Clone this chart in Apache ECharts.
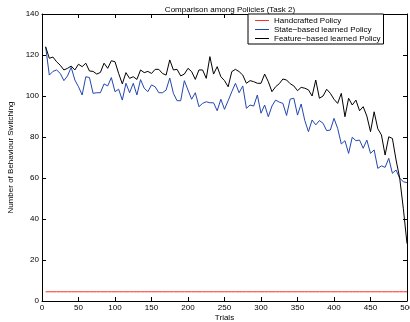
<!DOCTYPE html>
<html>
<head>
<meta charset="utf-8">
<script src="https://cdn.jsdelivr.net/npm/echarts@6/dist/echarts.min.js"></script>
<style>
  html, body { margin: 0; padding: 0; background: #fff; }
  #chart { width: 410px; height: 322px; }
</style>
</head>
<body>
<div id="chart"></div>
<script>
// Trials run from 5 to 500 in steps of 5
const trials = [];
for (let t = 5; t <= 500; t += 5) trials.push(t);

const seriesNames = ['Handcrafted Policy', 'State\u2212based learned Policy', 'Feature\u2212based learned Policy'];

// Handcrafted policy stays flat across all trials
const handcrafted = [
  4.5,4.5,4.5,4.5,4.5,4.5,4.5,4.5,4.5,4.5, 4.5,4.5,4.5,4.5,4.5,4.5,4.5,4.5,4.5,4.5,
  4.5,4.5,4.5,4.5,4.5,4.5,4.5,4.5,4.5,4.5, 4.5,4.5,4.5,4.5,4.5,4.5,4.5,4.5,4.5,4.5,
  4.5,4.5,4.5,4.5,4.5,4.5,4.5,4.5,4.5,4.5, 4.5,4.5,4.5,4.5,4.5,4.5,4.5,4.5,4.5,4.5,
  4.5,4.5,4.5,4.5,4.5,4.5,4.5,4.5,4.5,4.5, 4.5,4.5,4.5,4.5,4.5,4.5,4.5,4.5,4.5,4.5,
  4.5,4.5,4.5,4.5,4.5,4.5,4.5,4.5,4.5,4.5, 4.5,4.5,4.5,4.5,4.5,4.5,4.5,4.5,4.5,4.5
];

const stateBased = [
  124,110.2,112,112.7,111,107.5,109.8,114,107.8,104.5,
  100.5,109.4,109,101.3,101.6,101.6,105.9,104.9,109,102.1,
  103.3,98,106.2,101.6,106.2,100.5,108,103.8,102.1,105.4,
  104.5,101.6,101.6,102.9,108.8,101.3,97.7,97.7,107.5,102.9,
  98.4,101.6,94.8,96.4,97.2,96.7,96.7,92.8,98.4,93.5,
  97.7,102.1,106.2,101.6,104.9,94,95.6,95.1,100.5,91.6,
  95.6,89.9,95.1,98,97,96.4,90.5,98.5,98.9,90.7,
  96.1,88,82.6,88.3,85.9,88,86.7,83.1,83.4,89.1,
  84.2,76.6,78.2,72,79.9,78.2,78.5,74.5,78.5,72,
  73.7,64.7,65.9,65.2,69.6,62.3,63.9,59.9,58.2,57.7
];

const featureBased = [
  124,118.4,119,116.7,115,112.7,113.5,114.6,112.7,115.5,
  114.3,116,112.2,112,110.7,111.5,116,113.5,117.2,116.7,
  111,105.9,111.4,108.6,109.4,108.1,112.7,111.4,112,111,
  113,113,111,110.2,117.6,112.7,113,109.8,110.7,113.5,
  111.9,108.1,112.7,112.7,108.6,119.2,110.7,114.3,109.4,107.5,
  104.5,111.9,113,111.9,110.2,106.2,107.5,107,106.2,106.2,
  110.7,107,102.1,104.5,106,108.3,107.8,106,104.9,102.6,
  104.2,103.8,103,100,107.8,98.9,100,103.3,101.3,98.4,
  96.4,101.3,89.9,98.9,95.6,98,92.8,94.8,90.2,82.6,
  92.3,84,81,71.2,80.1,79.3,68.8,60,45,28
];

const colors = ['#ff2a2a', '#2347b0', '#000000'];
const values = [handcrafted, stateBased, featureBased];

const font = 'Liberation Sans, Arial, Helvetica, sans-serif';
const labelStyle = { color: '#000', fontSize: 8, fontFamily: font };

const chart = echarts.init(document.getElementById('chart'), null, { renderer: 'canvas' });

function xAxisDef(pos, showLabels) {
  return {
    type: 'value', position: pos, min: 0, max: 500, interval: 50,
    axisLine: { show: true, onZero: false, lineStyle: { color: '#000', width: 1 } },
    axisTick: { show: true, inside: true, length: 4, lineStyle: { color: '#000' } },
    axisLabel: Object.assign({ show: showLabels, margin: 3 }, labelStyle),
    splitLine: { show: false },
    name: showLabels ? 'Trials' : '',
    nameLocation: 'middle', nameGap: 13,
    nameMoveOverlap: false,
    nameTextStyle: labelStyle
  };
}
function yAxisDef(pos, showLabels) {
  return {
    type: 'value', position: pos, min: 0, max: 140, interval: 20,
    axisLine: { show: true, onZero: false, lineStyle: { color: '#000', width: 1 } },
    axisTick: { show: true, inside: true, length: 4, lineStyle: { color: '#000' } },
    axisLabel: Object.assign({ show: showLabels, margin: 3 }, labelStyle),
    splitLine: { show: false },
    name: showLabels ? 'Number of Behaviour Switching' : '',
    nameLocation: 'middle', nameGap: 27,
    nameMoveOverlap: false,
    nameTextStyle: labelStyle
  };
}

chart.setOption({
  animation: false,
  backgroundColor: '#fff',
  title: {
    text: 'Comparison among Policies (Task 2)',
    left: 225, top: 1, textAlign: 'center',
    textStyle: { fontSize: 8, fontWeight: 'normal', color: '#000', fontFamily: font }
  },
  legend: {
    data: seriesNames.map((n, i) => ({ name: n, itemStyle: { color: colors[i] } })),
    orient: 'vertical',
    left: 248, top: 14,
    padding: [2, 3, 1, 7],
    itemGap: 0,
    itemWidth: 14,
    itemHeight: 1,
    icon: 'rect',
    borderColor: '#000',
    borderWidth: 1,
    borderRadius: 0,
    backgroundColor: '#fff',
    textStyle: { fontSize: 8, color: '#000', fontFamily: font, lineHeight: 9 }
  },
  grid: { left: 42, right: 3, top: 14, bottom: 21, containLabel: false, outerBoundsMode: 'none' },
  xAxis: [xAxisDef('bottom', true), xAxisDef('top', false)],
  yAxis: [yAxisDef('left', true), yAxisDef('right', false)],
  series: seriesNames.map((name, i) => ({
    name: name,
    type: 'line',
    xAxisIndex: 0,
    yAxisIndex: 0,
    showSymbol: false,
    symbol: 'none',
    data: trials.map((t, k) => [t, values[i][k]]),
    lineStyle: { color: colors[i], width: 1 },
    itemStyle: { color: colors[i] },
    z: 2 + i
  }))
});
</script>
</body>
</html>
